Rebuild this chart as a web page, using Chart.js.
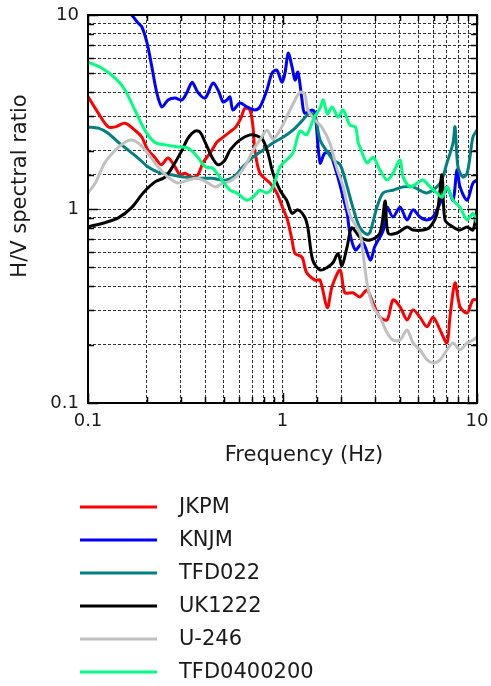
<!DOCTYPE html>
<html>
<head>
<meta charset="utf-8">
<script src="https://cdn.jsdelivr.net/npm/chart.js@4.4.0/dist/chart.umd.min.js"></script>
<style>
  body { margin: 0; background: #fff; }
  canvas { display: block; }
</style>
</head>
<body>
<canvas id="chart" width="491" height="686"></canvas>
<script>
// H/V spectral ratio curves (frequency in Hz, ratio)
var labels = ["JKPM", "KNJM", "TFD022", "UK1222", "U-246", "TFD0400200"];
var colors = ["#ff0000", "#0000ff", "#008080", "#000000", "#c0c0c0", "#00ff80"];

var jkpmF = [0.100,0.113,0.127,0.138,0.155,0.174,0.189,0.203,0.220,0.238,0.258,0.280,0.297,0.315,0.343,0.367,0.390,0.424,0.460,0.488,0.537,0.576,0.611,0.641,0.680,0.705,0.721,0.766,0.862,0.935,1.00,1.06,1.12,1.16,1.26,1.33,1.47,1.56,1.70,1.80,1.98,2.09,2.30,2.50,2.72,2.92,3.17,3.45,3.70,4.02,4.37,4.69,5.09,5.53,5.94,6.46,7.01,7.26,7.71,8.18,8.89,9.53,10];
var jkpmV = [3.80,3.12,2.65,2.65,2.77,2.55,2.35,2.01,1.85,1.69,1.83,1.65,1.50,1.53,1.46,1.50,1.73,1.94,2.21,2.32,2.50,2.65,2.94,3.31,3.24,2.65,2.01,1.53,1.36,1.21,1.02,0.88,0.69,0.59,0.565,0.47,0.43,0.43,0.31,0.40,0.485,0.37,0.37,0.352,0.382,0.328,0.277,0.268,0.340,0.313,0.268,0.302,0.277,0.247,0.277,0.238,0.204,0.277,0.416,0.313,0.291,0.340,0.340];

var knjmF = [0.168,0.179,0.189,0.201,0.213,0.226,0.240,0.258,0.280,0.304,0.323,0.343,0.367,0.400,0.439,0.466,0.495,0.518,0.537,0.556,0.604,0.656,0.721,0.766,0.832,0.883,0.935,0.993,1.03,1.07,1.12,1.16,1.20,1.26,1.30,1.42,1.47,1.56,1.65,1.75,1.90,2.05,2.15,2.22,2.37,2.59,2.83,2.98,3.30,3.45,3.70,4.02,4.37,4.69,5.09,5.53,5.94,6.46,7.01,7.53,7.89,8.18,8.89,9.53,10];
var knjmV = [10.0,9.2,8.7,7.2,5.4,3.96,3.36,3.65,3.73,3.65,4.0,4.5,4.0,3.73,4.46,4.11,3.56,3.65,3.78,3.24,3.52,3.36,3.24,3.36,4.11,5.02,5.20,4.51,5.02,6.36,5.40,4.62,5.08,3.65,3.12,3.24,3.12,1.73,1.94,1.94,1.53,1.15,0.95,0.75,0.615,0.67,0.546,0.64,0.78,1.02,0.91,1.02,0.878,0.99,0.91,0.878,0.91,1.07,1.30,1.11,1.59,1.30,1.11,1.36,1.41];

var tfd022F = [0.100,0.113,0.127,0.143,0.161,0.181,0.203,0.229,0.270,0.315,0.367,0.434,0.488,0.518,0.570,0.625,0.705,0.793,0.893,1.01,1.13,1.27,1.38,1.47,1.56,1.70,1.82,1.98,2.15,2.30,2.50,2.72,2.82,3.06,3.29,3.70,4.17,4.69,5.53,6.46,7.01,7.53,7.71,7.98,8.47,8.89,9.20,9.53,10];
var tfd022V = [2.65,2.61,2.46,2.21,2.01,1.83,1.65,1.55,1.50,1.46,1.44,1.44,1.41,1.41,1.48,1.65,1.85,2.01,2.19,2.35,2.55,2.87,3.12,2.98,2.27,1.97,1.79,1.69,1.30,1.02,0.80,0.74,0.76,1.02,1.21,1.25,1.30,1.30,1.21,1.36,1.73,2.19,2.65,1.65,1.46,1.53,1.85,2.35,2.55];

var uk1222F = [0.100,0.122,0.143,0.168,0.192,0.221,0.249,0.280,0.304,0.327,0.355,0.377,0.400,0.434,0.466,0.506,0.537,0.604,0.680,0.740,0.793,0.842,0.893,0.971,1.05,1.12,1.20,1.30,1.35,1.43,1.56,1.70,1.82,1.93,2.02,2.15,2.27,2.50,2.82,3.17,3.37,3.49,3.88,4.37,4.69,5.28,5.73,6.23,6.61,6.85,7.53,8.18,8.89,9.53,10];
var uk1222V = [0.81,0.85,0.90,1.02,1.21,1.38,1.46,1.73,2.01,2.32,2.52,2.49,2.21,1.85,1.69,1.79,2.01,2.27,2.41,2.38,2.27,1.94,1.53,1.25,1.11,0.95,0.99,0.91,0.80,0.546,0.485,0.50,0.53,0.59,0.51,0.64,0.80,0.717,0.692,0.752,1.10,0.752,0.752,0.808,0.779,0.779,0.808,0.95,1.50,0.878,0.808,0.779,0.808,0.779,0.99];

var u246F = [0.100,0.109,0.122,0.138,0.155,0.168,0.181,0.203,0.229,0.258,0.290,0.327,0.367,0.414,0.450,0.488,0.537,0.604,0.656,0.705,0.766,0.832,0.893,0.971,1.05,1.16,1.23,1.30,1.35,1.47,1.59,1.75,1.90,2.05,2.22,2.50,2.59,2.72,2.92,3.17,3.45,3.70,4.02,4.37,4.69,5.09,5.53,5.94,6.46,7.01,7.53,8.18,8.89,9.53,10];
var u246V = [1.21,1.36,1.73,2.01,2.21,2.27,2.19,1.94,1.65,1.46,1.36,1.41,1.44,1.36,1.30,1.35,1.39,1.53,1.73,2.01,2.27,2.55,2.29,2.55,2.98,3.65,4.0,3.92,3.24,2.87,2.65,2.19,1.63,1.30,0.93,0.75,0.60,0.416,0.313,0.277,0.230,0.211,0.211,0.238,0.204,0.188,0.167,0.161,0.167,0.188,0.204,0.188,0.204,0.211,0.219];

var tfd04F = [0.100,0.118,0.138,0.155,0.174,0.196,0.220,0.249,0.290,0.327,0.367,0.400,0.434,0.460,0.488,0.537,0.582,0.656,0.705,0.766,0.832,0.893,0.971,1.05,1.13,1.23,1.33,1.45,1.56,1.62,1.70,1.80,1.93,2.05,2.22,2.37,2.45,2.50,2.72,2.92,3.17,3.45,3.70,4.02,4.17,4.53,4.92,5.28,5.73,6.23,6.61,7.01,7.53,8.18,8.89,9.53,10];
var tfd04V = [5.72,5.32,4.73,4.11,3.24,2.55,2.21,2.14,2.09,2.06,1.85,1.65,1.63,1.53,1.41,1.25,1.21,1.11,1.15,1.25,1.21,1.30,1.65,1.79,1.94,2.52,2.41,2.94,3.31,3.65,3.09,3.36,2.98,3.24,2.71,2.65,2.19,2.09,1.73,1.85,1.59,1.41,1.53,1.79,1.46,1.30,1.36,1.41,1.30,1.21,1.15,1.30,1.11,1.02,0.878,0.95,0.847];

var decadeTicks = [0.1, 1, 10];

var series = [
  [jkpmF, jkpmV], [knjmF, knjmV], [tfd022F, tfd022V],
  [uk1222F, uk1222V], [u246F, u246V], [tfd04F, tfd04V]
];

function isDecade(v) {
  var l = Math.log10(v);
  return Math.abs(l - Math.round(l)) < 1e-6;
}

var FONT = '"DejaVu Sans", Verdana, sans-serif';

var datasets = series.map(function(s, i) {
  return {
    label: labels[i],
    data: s[0].map(function(f, k) { return { x: f, y: s[1][k] }; }),
    borderColor: colors[i],
    backgroundColor: colors[i],
    borderWidth: 3,
    pointRadius: 0,
    tension: 0.3,
    fill: false,
    order: series.length - 1 - i   // later series drawn on top
  };
});

// frame, inward tick marks, axis titles and the legend block under the plot
var decorations = {
  id: 'decorations',
  afterDraw: function(chart) {
    var ctx = chart.ctx, a = chart.chartArea;
    var xs = chart.scales.x, ys = chart.scales.y;
    ctx.save();
    ctx.strokeStyle = '#000';
    ctx.lineWidth = 1.5;
    ctx.beginPath();
    xs.ticks.forEach(function(t) {
      var px = Math.round(xs.getPixelForValue(t.value)) + 0.5;
      var len = isDecade(t.value) ? 10 : 6;
      ctx.moveTo(px, a.bottom); ctx.lineTo(px, a.bottom - len);
      ctx.moveTo(px, a.top); ctx.lineTo(px, a.top + len);
    });
    ys.ticks.forEach(function(t) {
      var py = Math.round(ys.getPixelForValue(t.value)) + 0.5;
      var len = isDecade(t.value) ? 10 : 6;
      ctx.moveTo(a.left, py); ctx.lineTo(a.left + len, py);
      ctx.moveTo(a.right, py); ctx.lineTo(a.right - len, py);
    });
    ctx.stroke();
    ctx.lineWidth = 2;
    ctx.strokeRect(a.left, a.top, a.right - a.left, a.bottom - a.top);

    ctx.fillStyle = '#1a1a1a';
    ctx.font = '21px ' + FONT;
    ctx.textAlign = 'center';
    ctx.textBaseline = 'middle';
    ctx.fillText('Frequency (Hz)', 304, 456);
    ctx.save();
    ctx.translate(21, 186);
    ctx.rotate(-Math.PI / 2);
    ctx.fillText('H/V spectral ratio', 0, 0);
    ctx.restore();

    ctx.textAlign = 'left';
    ctx.lineWidth = 3;
    labels.forEach(function(lab, i) {
      var y = 507 + i * 33;
      ctx.strokeStyle = colors[i];
      ctx.beginPath();
      ctx.moveTo(80, y); ctx.lineTo(157, y);
      ctx.stroke();
      ctx.fillText(lab, 179, y + 1);
    });
    ctx.restore();
  }
};

var ctx = document.getElementById('chart').getContext('2d');
var chart = new Chart(ctx, {
  type: 'line',
  data: { datasets: datasets },
  options: {
    responsive: false,
    animation: false,
    // plot box sits at 88,15 - 477,403
    layout: { autoPadding: false, padding: { left: 0, top: 15, right: 14, bottom: 0 } },
    plugins: { legend: { display: false }, tooltip: { enabled: false } },
    scales: {
      x: {
        type: 'logarithmic',
        min: 0.1, max: 10,
        grid: { color: 'rgba(0,0,0,0.8)', lineWidth: 1, drawTicks: false },
        border: { display: false, dash: [3, 2] },
        ticks: {
          autoSkip: false, maxRotation: 0, padding: 8,
          color: '#1a1a1a', font: { family: FONT, size: 18 },
          callback: function(v) { return decadeTicks.indexOf(+v.toPrecision(3)) >= 0 ? String(+v.toPrecision(3)) : ''; }
        },
        afterFit: function(scale) {
          scale.height = 686 - 403;
          scale.paddingLeft = 0; scale.paddingRight = 0;
        }
      },
      y: {
        type: 'logarithmic',
        min: 0.1, max: 10,
        grid: { color: 'rgba(0,0,0,0.8)', lineWidth: 1, drawTicks: false },
        border: { display: false, dash: [3, 2] },
        ticks: {
          autoSkip: false, padding: 9,
          color: '#1a1a1a', font: { family: FONT, size: 18 },
          callback: function(v) { return decadeTicks.indexOf(+v.toPrecision(3)) >= 0 ? String(+v.toPrecision(3)) : ''; }
        },
        afterFit: function(scale) {
          scale.width = 88;
          scale.paddingTop = 0; scale.paddingBottom = 0;
        }
      }
    }
  },
  plugins: [decorations]
});
</script>
</body>
</html>
